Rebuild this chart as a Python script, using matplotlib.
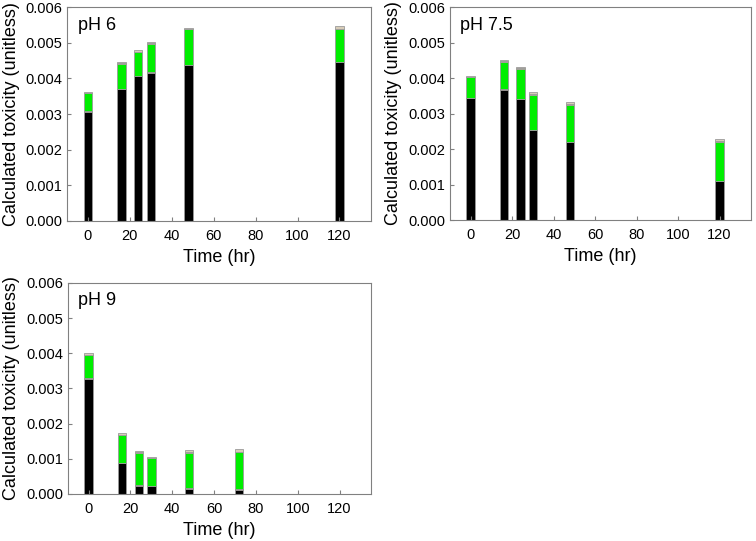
import numpy as np
import matplotlib.pyplot as plt

plt.rcParams['font.family'] = ['Liberation Sans', 'DejaVu Sans']

# sampling times (hr)
t_ph6 = [0, 16, 24, 30, 48, 120]
t_ph75 = [0, 16, 24, 30, 48, 120]
t_ph9 = [0, 16, 24, 30, 48, 72]

# stacked contributions (unitless): black, brown, green, yellow, tan
black_ph6 = [0.00307, 0.00369, 0.00407, 0.00416, 0.00437, 0.00445]
brown_ph6 = [0.00001, 0.00001, 0.00001, 0.00001, 0.00001, 0.00001]
green_ph6 = [0.00050, 0.00071, 0.00066, 0.00080, 0.00099, 0.00092]
yellow_ph6 = [0.00001, 0.00001, 0.00001, 0.00001, 0.00001, 0.00001]
tan_ph6 = [0.00004, 0.00004, 0.00004, 0.00005, 0.00004, 0.00008]

black_ph75 = [0.00344, 0.00367, 0.00341, 0.00254, 0.00219, 0.00109]
brown_ph75 = [0.00001, 0.00001, 0.00001, 0.00001, 0.00001, 0.00001]
green_ph75 = [0.00058, 0.00078, 0.00084, 0.00098, 0.00105, 0.00109]
yellow_ph75 = [0.00001, 0.00001, 0.00001, 0.00002, 0.00003, 0.00003]
tan_ph75 = [0.00002, 0.00003, 0.00003, 0.00005, 0.00004, 0.00006]

black_ph9 = [0.00328, 0.00088, 0.00024, 0.00022, 0.00014, 0.00012]
brown_ph9 = [0.00001, 0.00001, 0.00001, 0.00001, 0.00003, 0.00003]
green_ph9 = [0.00066, 0.00078, 0.00092, 0.00078, 0.00100, 0.00103]
yellow_ph9 = [0.00001, 0.00002, 0.00001, 0.00001, 0.00002, 0.00002]
tan_ph9 = [0.00004, 0.00004, 0.00004, 0.00004, 0.00006, 0.00007]

colors = ['black', '#5a1a10', '#00ee00', '#ffe080', '#d8cdb8']

panels = [
    ('pH 6', t_ph6, [black_ph6, brown_ph6, green_ph6, yellow_ph6, tan_ph6], [0.0886, 0.5915, 0.402, 0.3955]),
    ('pH 7.5', t_ph75, [black_ph75, brown_ph75, green_ph75, yellow_ph75, tan_ph75], [0.595, 0.5933, 0.398, 0.3937]),
    ('pH 9', t_ph9, [black_ph9, brown_ph9, green_ph9, yellow_ph9, tan_ph9], [0.0896, 0.0869, 0.401, 0.390]),
]

fig = plt.figure(figsize=(7.56, 5.41), dpi=100)
for name, t, layers, pos in panels:
    ax = fig.add_axes(pos)
    bottom = np.zeros(len(t))
    for vals, c in zip(layers, colors):
        ax.bar(t, vals, width=4, bottom=bottom, color=c, edgecolor='#9a9a9a', linewidth=0.6)
        bottom += np.array(vals)
    ax.set_xlim(-10, 135)
    ax.set_ylim(0, 0.006)
    ax.set_xticks([0, 20, 40, 60, 80, 100, 120])
    ax.set_yticks(np.arange(0, 0.0061, 0.001))
    ax.yaxis.set_major_formatter(plt.FormatStrFormatter('%.3f'))
    ax.tick_params(axis='x', direction='in', length=3, color='#808080', labelsize=10.5, pad=6)
    ax.tick_params(axis='y', direction='in', length=3, color='#808080', labelsize=10.5)
    for s in ax.spines.values():
        s.set_color('#808080')
    ax.set_xlabel('Time (hr)', fontsize=13)
    ax.set_ylabel('Calculated toxicity (unitless)', fontsize=13)
    ax.text(0.035, 0.955, name, transform=ax.transAxes, fontsize=13, va='top', ha='left')

fig.savefig('out.png', dpi=100)
